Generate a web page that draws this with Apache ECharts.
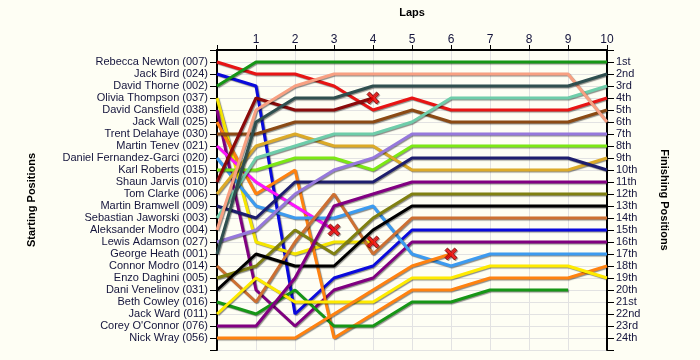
<!DOCTYPE html>
<html><head><meta charset="utf-8">
<script src="https://cdn.jsdelivr.net/npm/echarts@6/dist/echarts.min.js"></script>
<style>html,body{margin:0;padding:0;background:#FEFEF4;}#c{width:700px;height:360px;}</style>
</head><body><div id="c"></div>
<script>
const drivers = ['Rebecca Newton (007)','Jack Bird (024)','David Thorne (002)','Olivia Thompson (037)','David Cansfield (038)','Jack Wall (025)','Trent Delahaye (030)','Martin Tenev (021)','Daniel Fernandez-Garci (020)','Karl Roberts (015)','Shaun Jarvis (010)','Tom Clarke (006)','Martin Bramwell (009)','Sebastian Jaworski (003)','Aleksander Modro (004)','Lewis Adamson (027)','George Heath (001)','Connor Modro (014)','Enzo Daghini (005)','Dani Venelinov (031)','Beth Cowley (016)','Jack Ward (011)',"Corey O'Connor (076)",'Nick Wray (056)'];
const finishLabels = ['1st','2nd','3rd','4th','5th','6th','7th','8th','9th','10th','11th','12th','13th','14th','15th','16th','17th','18th','19th','20th','21st','22nd','23rd','24th'];
const laps = [0,1,2,3,4,5,6,7,8,9,10];
// position of each driver at each lap (null = no longer running)
const lapPositions = [
  [1,2,2,3,5,4,5,5,5,5,4],
  [2,3,22,19,18,15,15,15,15,15,15],
  [3,1,1,1,1,1,1,1,1,1,1],
  [4,16,17,16,16,null,null,null,null,null,null],
  [5,20,23,20,19,16,16,16,16,16,16],
  [6,12,10,24,22,20,20,19,19,19,18],
  [7,7,6,6,6,5,6,6,6,6,5],
  [8,11,13,15,null,null,null,null,null,null,null],
  [9,13,14,14,13,17,18,17,17,17,17],
  [10,10,9,9,10,8,8,8,8,8,8],
  [11,4,5,5,4,null,null,null,null,null,null],
  [12,8,7,8,8,10,10,10,10,10,9],
  [13,14,11,11,11,9,9,9,9,9,10],
  [14,9,8,7,7,6,4,4,4,4,3],
  [15,5,3,2,2,2,2,2,2,2,6],
  [16,15,12,10,9,7,7,7,7,7,7],
  [17,6,4,4,3,3,3,3,3,3,2],
  [18,21,16,12,17,14,14,14,14,14,14],
  [19,18,15,17,14,12,12,12,12,12,12],
  [20,17,18,18,15,13,13,13,13,13,13],
  [21,22,20,23,23,21,21,20,20,20,null],
  [22,19,21,21,21,19,19,18,18,18,19],
  [23,23,19,13,12,11,11,11,11,11,11],
  [24,24,24,22,20,18,17,null,null,null,null]
];
const retiredDrivers = [3,7,10,23];
const lineColors = ['#E81414','#0A0ADC','#169616','#F5E600','#800080','#FF8210','#8B4A14','#FF14FF','#3C9BF0','#7CE814','#8B0A0A','#DCAA28','#1E1E6E','#6ECDAA','#F8A082','#9678DC','#2F4F4F','#CD7032','#808010','#000000','#169616','#FFEB00','#820082','#FF8210'];

const txt = '#14143C';
const font = 'Liberation Sans';
const series = lapPositions.map((row, i) => ({
  type: 'line',
  name: drivers[i],
  data: laps.map((l, j) => [l, row[j]]).filter(d => d[1] !== null),
  symbol: 'none',
  lineStyle: {color: lineColors[i], width: 3, shadowColor: 'rgba(0,0,0,0.45)', shadowBlur: 1, shadowOffsetX: 1, shadowOffsetY: 1},
  itemStyle: {color: lineColors[i]},
  z: 3
}));
series.push({
  type: 'scatter',
  data: retiredDrivers.map(i => {
    const row = lapPositions[i];
    let k = row.length - 1;
    while (row[k] === null) k--;
    return [laps[k], row[k]];
  }),
  symbol: 'path://M2,0 L5,3 L8,0 L10,2 L7,5 L10,8 L8,10 L5,7 L2,10 L0,8 L3,5 L0,2 Z',
  symbolSize: 12,
  itemStyle: {color: '#FF0000', borderColor: '#700000', borderWidth: 1, shadowColor: 'rgba(0,0,0,0.3)', shadowBlur: 0, shadowOffsetX: 1, shadowOffsetY: 1},
  z: 5
});

const chart = echarts.init(document.getElementById('c'), null, {renderer: 'canvas'});
chart.setOption({
  backgroundColor: '#FEFEF4',
  animation: false,
  grid: {left: 217, right: 93, top: 50, bottom: 10},
  xAxis: {
    type: 'value', position: 'top', min: 0, max: 10, interval: 1,
    name: 'Laps', nameLocation: 'middle', nameGap: 32,
    nameTextStyle: {fontFamily: font, fontWeight: 'bold', fontSize: 11, color: '#000'},
    axisLine: {show: true, lineStyle: {color: '#000', width: 2}},
    axisTick: {show: true, length: 5, lineStyle: {color: '#000'}},
    axisLabel: {fontFamily: font, fontSize: 12, color: txt, margin: 4, formatter: v => v === 0 ? '' : String(v)},
    splitLine: {show: true, lineStyle: {color: '#E2E2E2', width: 1}}
  },
  yAxis: [{
    type: 'value', inverse: true, min: 0, max: 25, interval: 1,
    name: 'Starting Positions', nameLocation: 'middle', nameGap: 180, nameRotate: 90,
    nameTextStyle: {fontFamily: font, fontWeight: 'bold', fontSize: 11, color: '#000'},
    axisLine: {show: true, lineStyle: {color: '#000', width: 2}},
    axisTick: {show: true, length: 7, lineStyle: {color: '#000'}},
    axisLabel: {fontFamily: font, fontSize: 11, color: txt, margin: 9, formatter: v => (v >= 1 && v <= drivers.length) ? drivers[v - 1] : ''},
    splitLine: {show: true, lineStyle: {color: '#E2E2E2', width: 1}}
  }, {
    type: 'value', inverse: true, min: 0, max: 25, interval: 1, position: 'right',
    name: 'Finishing Positions', nameLocation: 'middle', nameGap: 52, nameRotate: -90,
    nameTextStyle: {fontFamily: font, fontWeight: 'bold', fontSize: 11, color: '#000'},
    axisLine: {show: true, lineStyle: {color: '#000', width: 2}},
    axisTick: {show: true, length: 7, lineStyle: {color: '#000'}},
    axisLabel: {fontFamily: font, fontSize: 11, color: txt, margin: 9, formatter: v => (v >= 1 && v <= finishLabels.length) ? finishLabels[v - 1] : ''},
    splitLine: {show: false}
  }],
  series: series
});
</script>
</body></html>
